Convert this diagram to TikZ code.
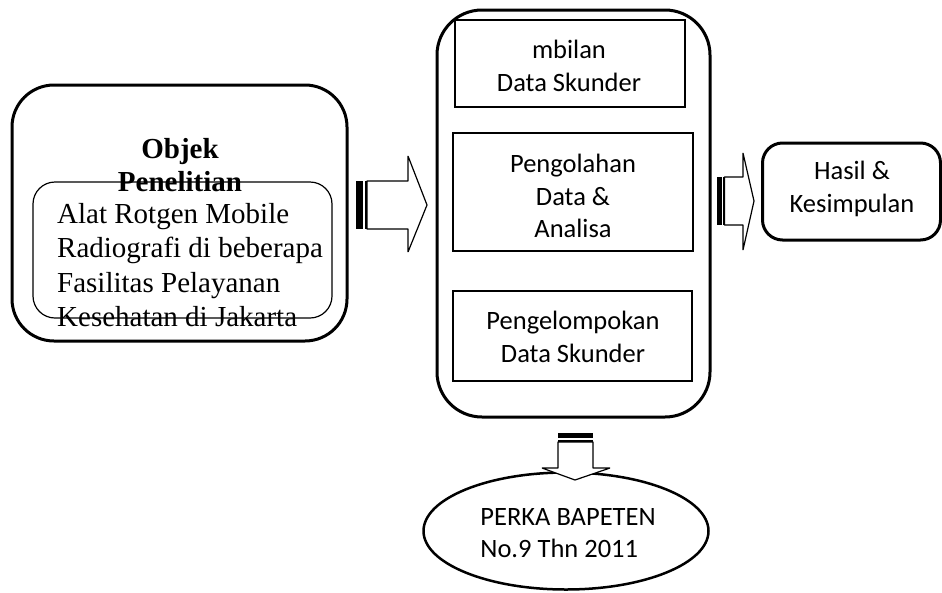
\documentclass[tikz,border=0pt]{standalone}
\usepackage{fontspec}
\setmainfont{Liberation Serif}
\newfontfamily\calib{Carlito}
\usetikzlibrary{shapes.geometric}
\tikzset{
  outerbox/.style={draw, line width=3pt, rounded corners=#1, inner sep=0pt},
  innerround/.style={draw, line width=1.2pt, rounded corners=22pt, inner sep=0pt},
  sqbox/.style={draw, line width=1.2pt, inner sep=0pt},
  sertext/.style={font=\fontsize{29}{34.5}\selectfont, inner sep=0pt},
  caltext/.style={font=\calib\fontsize{26.5}{32.5}\selectfont, inner sep=0pt, align=center},
  blockarrow/.style={draw=black, line width=1.2pt, fill=white, line join=bevel},
  tailbar/.style={fill=black, draw=none}
}
\begin{document}
\begin{tikzpicture}[x=1pt,y=-1pt]
\useasboundingbox (0,0) rectangle (942,592);
% left block
\node[outerbox=42pt, minimum width=335pt, minimum height=256pt] (obj) at (179.5,213) {};
\node[innerround, minimum width=299pt, minimum height=136pt] (objin) at (182.5,250) {};
\node[sertext, font=\bfseries\fontsize{29}{33}\selectfont, align=center] (objt) at (180,165) {Objek\\Penelitian};
\node[sertext, align=left, anchor=west] (objtxt) at (57,265) {Alat Rotgen Mobile\\Radiografi di beberapa\\Fasilitas Pelayanan\\Kesehatan di Jakarta};
% middle block
\node[outerbox=45pt, minimum width=273pt, minimum height=407pt] (mid) at (573.5,213.5) {};
\node[sqbox, minimum width=230pt, minimum height=87pt] (b1) at (570,63.5) {};
\node[caltext] (t1) at (569,66) {mbilan\\Data Skunder};
\node[sqbox, minimum width=240pt, minimum height=118pt] (b2) at (573,192) {};
\node[caltext] (t2) at (573,196) {Pengolahan\\Data \&\\Analisa};
\node[sqbox, minimum width=239pt, minimum height=90pt] (b3) at (572.5,336) {};
\node[caltext] (t3) at (573,337) {Pengelompokan\\Data Skunder};
% right block
\node[outerbox=20pt, minimum width=178pt, minimum height=97pt] (hasil) at (851.5,191.5) {};
\node[caltext] (t4) at (852,189) {Hasil \&\\Kesimpulan};
% ellipse
\node[draw, ellipse, line width=2.5pt, minimum width=285pt, minimum height=117pt, inner sep=0pt] (perka) at (566,531) {};
\node[caltext, align=left] (t5) at (568,533) {PERKA BAPETEN\\No.9 Thn 2011};
% arrow left -> middle
\fill[tailbar] (356,181) rectangle (363,229);
\fill[tailbar] (365,181) rectangle (367,229);
\draw[blockarrow] (367,181) -- (408,181) -- (408,156) -- (427,205) -- (408,252) -- (408,229) -- (367,229) -- cycle;
% arrow middle -> right
\fill[tailbar] (717,177) rectangle (722,225);
\fill[tailbar] (723,177) rectangle (724.5,225);
\draw[blockarrow] (724.5,177) -- (743,177) -- (743,153) -- (754,201) -- (743,250) -- (743,225) -- (724.5,225) -- cycle;
% arrow down
\fill[tailbar] (558,433) rectangle (593,438);
\fill[tailbar] (558,440) rectangle (593,442);
\draw[blockarrow] (558,442) -- (558,468) -- (542,468) -- (575,480) -- (610,468) -- (593,468) -- (593,442) -- cycle;
\end{tikzpicture}
\end{document}
